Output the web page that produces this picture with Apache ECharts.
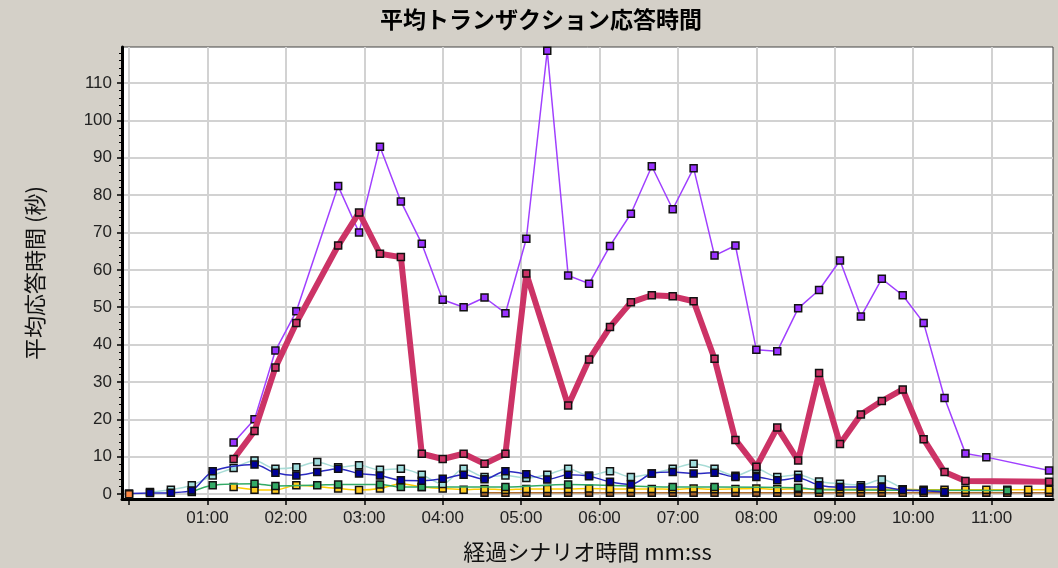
<!DOCTYPE html>
<html>
<head>
<meta charset="utf-8">
<script src="https://cdn.jsdelivr.net/npm/echarts@6/dist/echarts.min.js"></script>
<style>
html,body{margin:0;padding:0;background:#d4d0c8;}
#chart{width:1058px;height:568px;}
</style>
</head>
<body>
<div id="chart"></div>
<script>
const titleText = '平均トランザクション応答時間';
const yName = '平均応答時間 (秒)';
const xName = '経過シナリオ時間 mm:ss';

// elapsed seconds of each sample
const times = [0,16,32,48,64,80,96,112,128,144,160,176,192,208,224,240,256,272,288,304,320,336,352,368,384,400,416,432,448,464,480,496,512,528,544,560,576,592,608,624,640,656,672,688,704];

const xTicks = [0,60,120,180,240,300,360,420,480,540,600,660];
const yTicks = [0,10,20,30,40,50,60,70,80,90,100,110];

const purple = [null,null,null,null,null,13.8,20.0,38.4,48.9,null,82.4,70.0,92.9,78.3,67.0,52.0,50.0,52.6,48.4,68.3,118.6,58.5,56.3,66.4,75.0,87.7,76.2,87.2,63.8,66.5,38.6,38.2,49.7,54.6,62.5,47.5,57.6,53.2,45.8,25.7,10.9,9.9,null,null,6.3];
const crimson = [null,null,null,null,null,9.4,16.9,33.9,45.8,null,66.5,75.3,64.3,63.4,10.8,9.4,10.8,8.1,10.8,59.0,null,23.7,36.0,44.7,51.3,53.2,52.9,51.6,36.2,14.5,7.3,17.8,9.0,32.4,13.4,21.3,24.9,28.0,14.7,5.9,3.5,null,null,null,3.3];
const cyan = [null,0.6,1.2,2.4,5.0,7.0,9.0,6.8,7.2,8.6,7.2,7.7,6.5,6.8,5.2,2.7,6.8,4.6,5.0,4.3,5.2,6.8,5.0,6.1,4.6,5.5,6.8,8.1,6.8,4.9,6.8,4.6,5.2,3.4,2.8,2.4,3.9,1.3,null,null,null,null,null,null,null];
const blue = [0.2,0.3,0.4,1.0,6.1,null,7.9,5.7,5.0,5.9,6.8,5.5,5.0,3.7,3.6,4.1,5.2,4.0,6.1,5.3,3.9,5.2,4.8,3.3,2.6,5.5,5.9,5.5,5.7,4.6,4.6,3.7,4.3,2.4,1.9,1.9,1.9,1.1,0.9,0.6,null,null,null,null,null];
const green = [null,null,null,0.6,2.4,null,2.8,2.2,null,2.4,2.6,null,2.6,1.9,1.9,null,null,null,1.9,null,null,2.6,null,null,null,null,1.9,null,1.9,null,null,null,1.7,1.2,null,null,null,null,null,null,null,null,1.0,null,null];
const yellow = [null,null,null,null,null,1.9,1.2,1.1,2.4,null,1.5,1.1,1.5,2.8,1.9,1.5,1.2,1.4,1.2,1.4,1.4,1.4,1.5,1.4,1.4,1.4,1.3,1.5,1.3,1.4,1.5,1.3,1.4,1.3,1.3,1.3,1.3,1.3,1.2,1.2,1.2,1.2,1.2,1.2,1.2];
const brown = [null,null,null,null,null,null,null,null,null,null,null,null,null,null,null,null,null,0.4,0.4,0.4,0.4,0.4,0.4,0.4,0.4,0.4,0.4,0.4,0.4,0.4,0.4,0.4,0.4,0.4,0.4,0.4,0.4,0.4,0.4,0.4,0.4,0.4,0.4,0.4,0.4];
const orange = [0,null,null,null,null,null,null,null,null,null,null,null,null,null,null,null,null,null,null,null,null,null,null,null,null,null,null,null,null,null,null,null,null,null,null,null,null,null,null,null,null,null,null,null,null];

function pts(vals){
  const out = [];
  vals.forEach((v,i)=>{ if(v!==null) out.push([times[i], v]); });
  return out;
}
function mk(name, vals, line, fill, width, smooth, z){
  return {
    name, type:'line', data: pts(vals), smooth: smooth, z: z,
    symbol:'rect', symbolSize:7, showAllSymbol:true,
    lineStyle:{color: line, width: width},
    itemStyle:{color: fill, borderColor:'#111', borderWidth:1.5},
    emphasis:{disabled:true}, animation:false
  };
}
function mmss(v){
  if(v===0) return '';
  const m = Math.floor(v/60), s = v%60;
  return String(m).padStart(2,'0')+':'+String(s).padStart(2,'0');
}

const chart = echarts.init(document.getElementById('chart'), null, {renderer:'canvas'});
chart.setOption({
  backgroundColor:'#d4d0c8',
  animation:false,
  title:{
    text: titleText, left: 375, top: 3,
    textStyle:{fontFamily:'"Noto Sans CJK JP"', fontSize:23, fontWeight:'bold', color:'#000'}
  },
  grid:{left:122, top:47, width:931, height:457, show:true, backgroundColor:'#ffffff', borderColor:'#444', borderWidth:1},
  xAxis:{
    type:'value', min:-5.4, max:707,
    name: xName, nameLocation:'middle', nameGap:42,
    nameTextStyle:{fontFamily:'"Noto Sans CJK JP"', fontSize:22, color:'#111'},
    axisLine:{onZero:false, lineStyle:{color:'#000', width:3}},
    axisTick:{length:6, lineStyle:{color:'#000', width:1.5}, customValues: xTicks},
    axisLabel:{customValues: xTicks, formatter: mmss, margin:11, fontFamily:'"Liberation Sans", Arial', fontSize:17, color:'#222'},
    splitLine:{show:true, lineStyle:{color:'#d2d2d2', width:2}}
  },
  yAxis:{
    type:'value', min:-1.3, max:119.6, splitNumber:12,
    name: yName, nameLocation:'middle', nameGap:76, nameRotate:90,
    nameTextStyle:{fontFamily:'"Noto Sans CJK JP"', fontSize:22, color:'#111'},
    axisLine:{onZero:false, lineStyle:{color:'#000', width:3}},
    axisTick:{length:5, lineStyle:{color:'#000', width:1.5}, customValues: yTicks},
    minorTick:{show:true, splitNumber:5, length:3, lineStyle:{color:'#000', width:1}},
    axisLabel:{customValues: yTicks, margin:10, fontFamily:'"Liberation Sans", Arial', fontSize:17, color:'#222'},
    splitLine:{show:true, lineStyle:{color:'#d2d2d2', width:2}}
  },
  series:[
    mk('brown', brown, '#b07030', '#a0602a', 1.5, false, 2),
    mk('yellow', yellow, '#ffcc00', '#ffcc22', 1.5, 0.3, 3),
    mk('green', green, '#33aa66', '#33aa66', 1.5, 0.3, 4),
    mk('cyan', cyan, '#a8dcd6', '#9fdcdc', 1.5, 0.3, 5),
    mk('blue', blue, '#2a2ac0', '#000099', 1.5, 0.3, 6),
    mk('orange', orange, '#ff8844', '#ff8844', 1.5, false, 7),
    mk('purple', purple, '#a040ff', '#9933ff', 1.5, false, 8),
    mk('crimson', crimson, '#cc3366', '#cc3366', 6, false, 9)
  ]
});
</script>
</body>
</html>
